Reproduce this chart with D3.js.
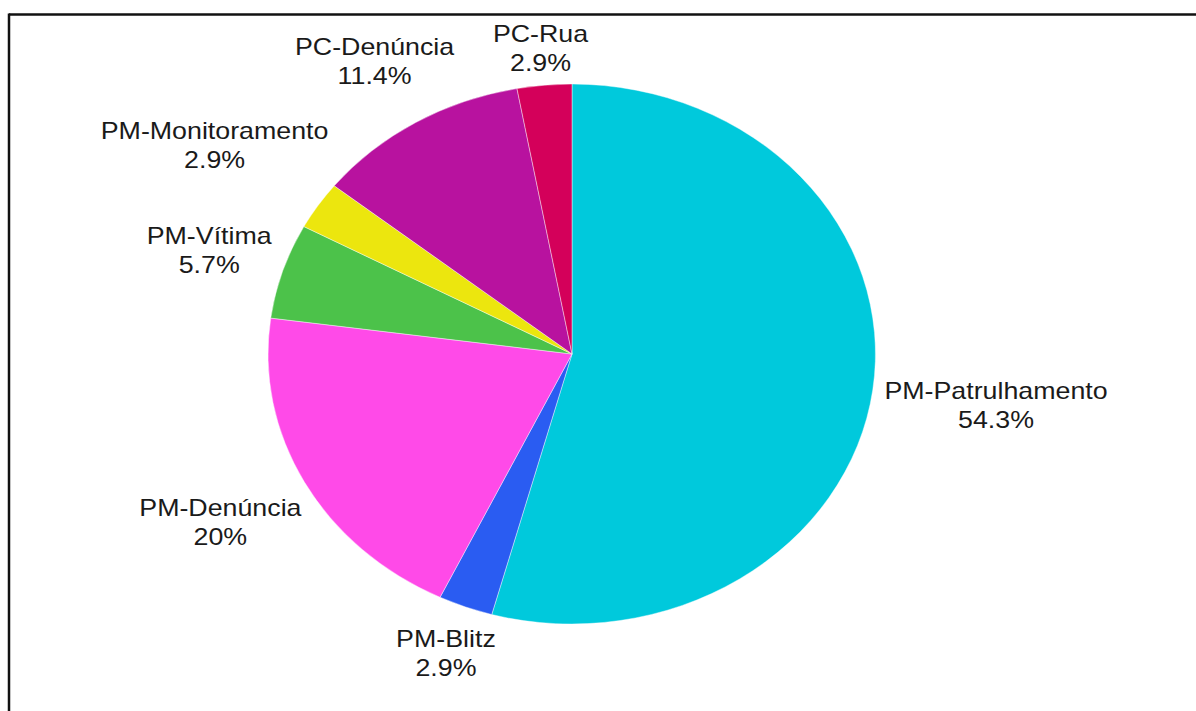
<!DOCTYPE html>
<html>
<head>
<meta charset="utf-8">
<script src="https://cdn.jsdelivr.net/npm/d3@7"></script>
<style>
  html, body { margin: 0; padding: 0; background: #fff; }
  svg { display: block; }
</style>
</head>
<body>
<svg id="chart" width="1196" height="711"></svg>
<script>
const categories = ["PM-Patrulhamento", "PM-Blitz", "PM-Denúncia", "PM-Vítima", "PM-Monitoramento", "PC-Denúncia", "PC-Rua"];
const values = [54.3, 2.9, 20, 5.7, 2.9, 11.4, 2.9];
const percentLabels = ["54.3%", "2.9%", "20%", "5.7%", "2.9%", "11.4%", "2.9%"];
const colors = ["#00c9dc", "#2a5cf2", "#ff4ae8", "#4cc24a", "#ece60e", "#b8129f", "#d4005a"];

const W = 1196, H = 711;
const cx = 572, cy = 354, rx = 304, ry = 270;
const stretch = 1.165;
const fontSize = 23, lineGap = 29, gap = 10;

const svg = d3.select("#chart");

// frame (top and left edges)
svg.append("line").attr("x1", 9).attr("x2", W).attr("y1", 14.5).attr("y2", 14.5)
  .attr("stroke", "#111").attr("stroke-width", 2.5);
svg.append("line").attr("x1", 9).attr("x2", 9).attr("y1", 13.5).attr("y2", H)
  .attr("stroke", "#111").attr("stroke-width", 2.5);

const data = categories.map((c, i) => ({ cat: c, value: values[i], pct: percentLabels[i], color: colors[i] }));
const pie = d3.pie().sort(null).value(d => d.value);
const arcs = pie(data);
const arc = d3.arc().innerRadius(0).outerRadius(1);

const pieG = svg.append("g").attr("transform", `translate(${cx},${cy}) scale(${rx},${ry})`);
pieG.selectAll("path").data(arcs).join("path")
  .attr("d", arc)
  .attr("fill", d => d.data.color)
  .attr("stroke", "#ffffff")
  .attr("stroke-width", 0.7)
  .attr("stroke-opacity", 0.6)
  .attr("vector-effect", "non-scaling-stroke");

const labelG = svg.append("g");
arcs.forEach(a => {
  const mid = (a.startAngle + a.endAngle) / 2;
  const s = Math.sin(mid), c = Math.cos(mid);
  const vx = rx * s, vy = -ry * c;
  const Re = Math.hypot(vx, vy);
  const ux = vx / Re, uy = vy / Re;

  const g = labelG.append("g");
  const inner = g.append("g").attr("transform", `scale(${stretch},1)`);
  const t = inner.append("text")
    .attr("text-anchor", "middle")
    .attr("font-family", "'Liberation Sans', Arial, sans-serif")
    .attr("font-size", fontSize)
    .attr("fill", "#1a1a1a");
  t.append("tspan").attr("x", 0).attr("y", -6).text(a.data.cat);
  t.append("tspan").attr("x", 0).attr("y", -6 + lineGap).text(a.data.pct);

  const bb = t.node().getBBox();
  const bw = bb.width * stretch, bh = 46;
  const dist = Re + gap + (bw / 2) * Math.abs(ux) + (bh / 2) * Math.abs(uy);
  g.attr("transform", `translate(${cx + ux * dist},${cy + uy * dist})`);
});
</script>
</body>
</html>
